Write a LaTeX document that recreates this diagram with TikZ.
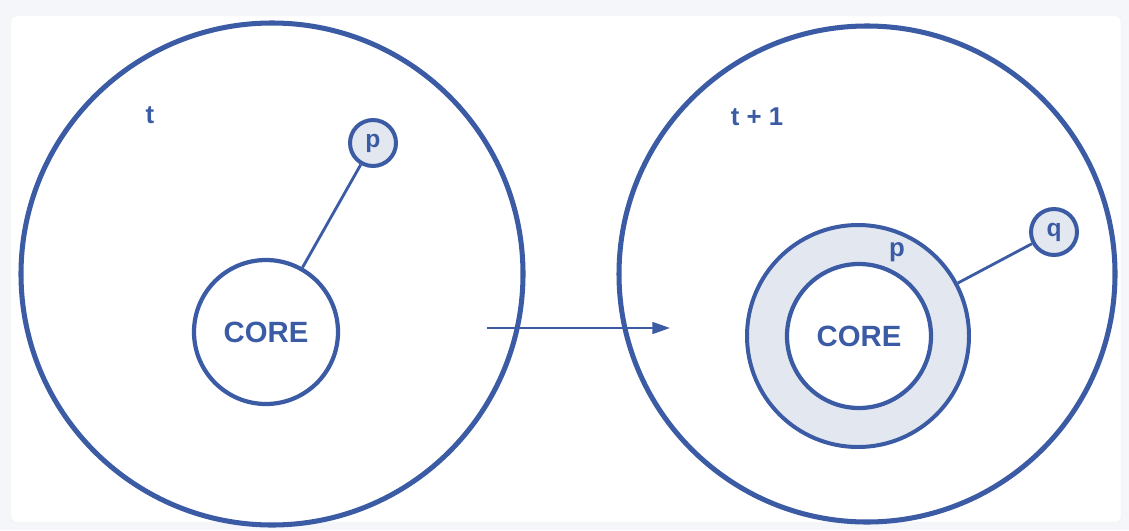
\documentclass[tikz,border=0pt]{standalone}
\usepackage{fontspec}
\setmainfont{Liberation Sans}
\usepackage{tikz}
\usetikzlibrary{arrows.meta, positioning}
\definecolor{coreblue}{HTML}{3B5BA5}
\definecolor{ringfill}{HTML}{E3E7EF}
\definecolor{pagebg}{HTML}{F4F6F9}
\tikzset{
  world/.style={circle, draw=coreblue, line width=4.3pt, inner sep=0pt, minimum size=#1*0.06cm},
  core/.style={circle, draw=coreblue, line width=3.6pt, inner sep=0pt, minimum size=#1*0.06cm,
    font=\bfseries\fontsize{25}{29}\selectfont, text=coreblue},
  member/.style={circle, draw=coreblue, fill=ringfill, line width=3.4pt, inner sep=0pt,
    minimum size=#1*0.06cm, font=\bfseries\fontsize{21}{24}\selectfont, text=coreblue},
  lab/.style={font=\bfseries\fontsize{22}{26}\selectfont, text=coreblue},
  link/.style={draw=coreblue, line width=2.4pt},
  flow/.style={draw=coreblue, line width=2pt, -{Triangle[length=15pt,width=10pt]}}
}

\begin{document}
\begin{tikzpicture}[x=0.03cm, y=-0.03cm]
  \fill[pagebg] (0,0) rectangle (1129,530);
  \draw[fill=white, draw=black!6, rounded corners=4pt] (11,16) rectangle (1121,522);
  \useasboundingbox (0,0) rectangle (1129,530);

  \node[world=251] (now) at (272,274) {};
  \node[lab] (tnow) at (150,115) {t};
  \node[core=72, fill=white] (corenow) at (266,332) {CORE};
  \node[member=23] (pnow) at (373,143) {p};
  \draw[link] (pnow) -- (corenow);

  \node[world=248] (next) at (867,274) {};
  \node[lab] (tnext) at (757,117) {t + 1};
  \node[member=111] (ring) at (858,336) {};
  \node[core=72, fill=white] (corenext) at (859,336) {CORE};
  \node[lab] (pnext) at (897,252) {p};
  \node[member=23] (qnext) at (1054,232) {q};
  \draw[link] (ring) -- (qnext);

  \coordinate (from) at (487,328);
  \coordinate (to) at (670,328);
  \draw[flow] (from) -- (to);
\end{tikzpicture}
\end{document}
